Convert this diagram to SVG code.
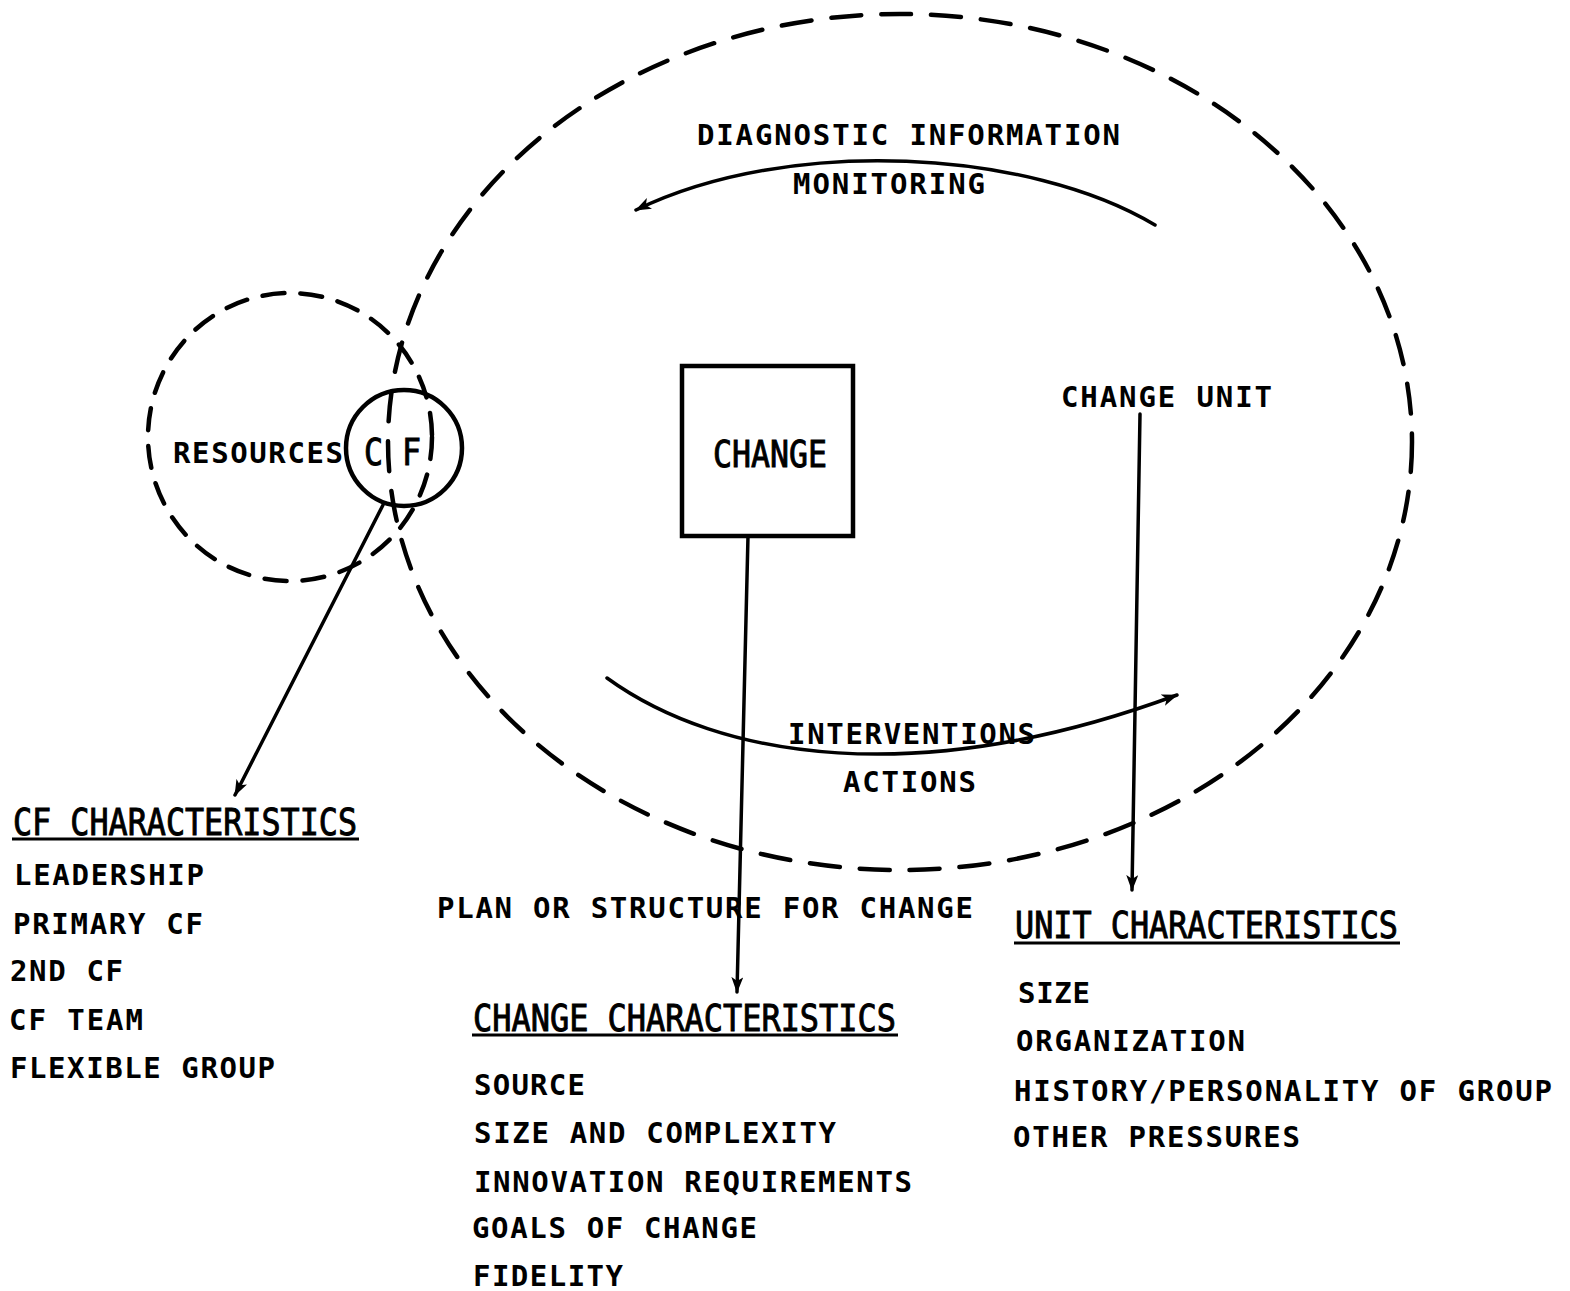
<svg xmlns="http://www.w3.org/2000/svg" width="1570" height="1291" viewBox="0 0 1570 1291">
<defs>
<style>
.bg{fill:#fff}
.dash{fill:none;stroke:#000;stroke-width:4.5;stroke-linecap:round}
.ln{fill:none;stroke:#000;stroke-width:3.5;stroke-linecap:round}
.t{font-family:"DejaVu Sans Mono","Liberation Mono",monospace;font-weight:bold;font-size:29px;fill:#000}
.h{font-family:"DejaVu Sans Mono","Liberation Mono",monospace;font-size:38px;fill:#000;stroke:#000;stroke-width:1}
.ul{stroke:#000;stroke-width:3}
</style>
<marker id="ah" viewBox="0 0 16 12" refX="15" refY="6" markerWidth="16" markerHeight="12" markerUnits="userSpaceOnUse" orient="auto">
<path d="M0,0 L16,6 L0,12 L4,6 Z" fill="#000"/>
</marker>
</defs>
<rect class="bg" x="0" y="0" width="1570" height="1291"/>

<g id="change-unit-ellipse">
<ellipse class="dash" cx="900" cy="442" rx="512" ry="428" stroke-dasharray="30 20"/>
</g>
<g id="resources">
<ellipse class="dash" cx="290" cy="437" rx="142" ry="144" stroke-dasharray="22 16"/>
<text class="t" x="173" y="463" textLength="170" lengthAdjust="spacing">RESOURCES</text>
</g>
<g id="cf">
<circle cx="404" cy="448" r="58" fill="none" stroke="#000" stroke-width="4.5"/>
<text class="h" x="364" y="465" font-size="40" textLength="57" lengthAdjust="spacingAndGlyphs">C F</text>
</g>
<g id="change">
<rect x="682" y="366" width="171" height="170" fill="none" stroke="#000" stroke-width="4.5"/>
<text class="h" x="713" y="467" textLength="114" lengthAdjust="spacingAndGlyphs">CHANGE</text>
</g>
<g id="change-unit-label">
<text class="t" x="1061" y="407" textLength="211" lengthAdjust="spacing">CHANGE UNIT</text>
</g>
<g id="diagnostic-labels">
<text class="t" x="697" y="145" textLength="423" lengthAdjust="spacing">DIAGNOSTIC INFORMATION</text>
<text class="t" x="793" y="194" textLength="192" lengthAdjust="spacing">MONITORING</text>
</g>
<g id="intervention-labels">
<text class="t" x="788" y="744" textLength="247" lengthAdjust="spacing">INTERVENTIONS</text>
<text class="t" x="843" y="792" textLength="133" lengthAdjust="spacing">ACTIONS</text>
</g>
<g id="plan-label">
<text class="t" x="437" y="918" textLength="536" lengthAdjust="spacing">PLAN OR STRUCTURE FOR CHANGE</text>
</g>

<g id="cf-characteristics">
<text class="h" x="13" y="835" textLength="344" lengthAdjust="spacingAndGlyphs">CF CHARACTERISTICS</text>
<line class="ul" x1="12" y1="839" x2="359" y2="839"/>
<text class="t" x="14" y="885" textLength="190" lengthAdjust="spacing">LEADERSHIP</text>
<text class="t" x="13" y="934" textLength="190" lengthAdjust="spacing">PRIMARY CF</text>
<text class="t" x="10" y="981" textLength="113" lengthAdjust="spacing">2ND CF</text>
<text class="t" x="9" y="1030" textLength="134" lengthAdjust="spacing">CF TEAM</text>
<text class="t" x="10" y="1078" textLength="265" lengthAdjust="spacing">FLEXIBLE GROUP</text>
</g>

<g id="change-characteristics">
<text class="h" x="473" y="1031" textLength="423" lengthAdjust="spacingAndGlyphs">CHANGE CHARACTERISTICS</text>
<line class="ul" x1="472" y1="1035" x2="898" y2="1035"/>
<text class="t" x="474" y="1095" textLength="111" lengthAdjust="spacing">SOURCE</text>
<text class="t" x="474" y="1143" textLength="362" lengthAdjust="spacing">SIZE AND COMPLEXITY</text>
<text class="t" x="474" y="1192" textLength="438" lengthAdjust="spacing">INNOVATION REQUIREMENTS</text>
<text class="t" x="472" y="1238" textLength="285" lengthAdjust="spacing">GOALS OF CHANGE</text>
<text class="t" x="473" y="1286" textLength="150" lengthAdjust="spacing">FIDELITY</text>
</g>

<g id="unit-characteristics">
<text class="h" x="1015" y="938" textLength="383" lengthAdjust="spacingAndGlyphs">UNIT CHARACTERISTICS</text>
<line class="ul" x1="1014" y1="943" x2="1400" y2="943"/>
<text class="t" x="1018" y="1003" textLength="72" lengthAdjust="spacing">SIZE</text>
<text class="t" x="1016" y="1051" textLength="229" lengthAdjust="spacing">ORGANIZATION</text>
<text class="t" x="1014" y="1101" textLength="538" lengthAdjust="spacing">HISTORY/PERSONALITY OF GROUP</text>
<text class="t" x="1013" y="1147" textLength="287" lengthAdjust="spacing">OTHER PRESSURES</text>
</g>

<g id="connectors">
<path class="ln" d="M1155,225 C1030,150 790,135 636,210" marker-end="url(#ah)"/>
<path class="ln" d="M607,678 C720,760 920,790 1177,695" marker-end="url(#ah)"/>
<line class="ln" x1="383" y1="505" x2="235" y2="795" marker-end="url(#ah)"/>
<line class="ln" x1="748" y1="536" x2="737" y2="992" marker-end="url(#ah)"/>
<line class="ln" x1="1140" y1="414" x2="1132" y2="890" marker-end="url(#ah)"/>
</g>
</svg>
